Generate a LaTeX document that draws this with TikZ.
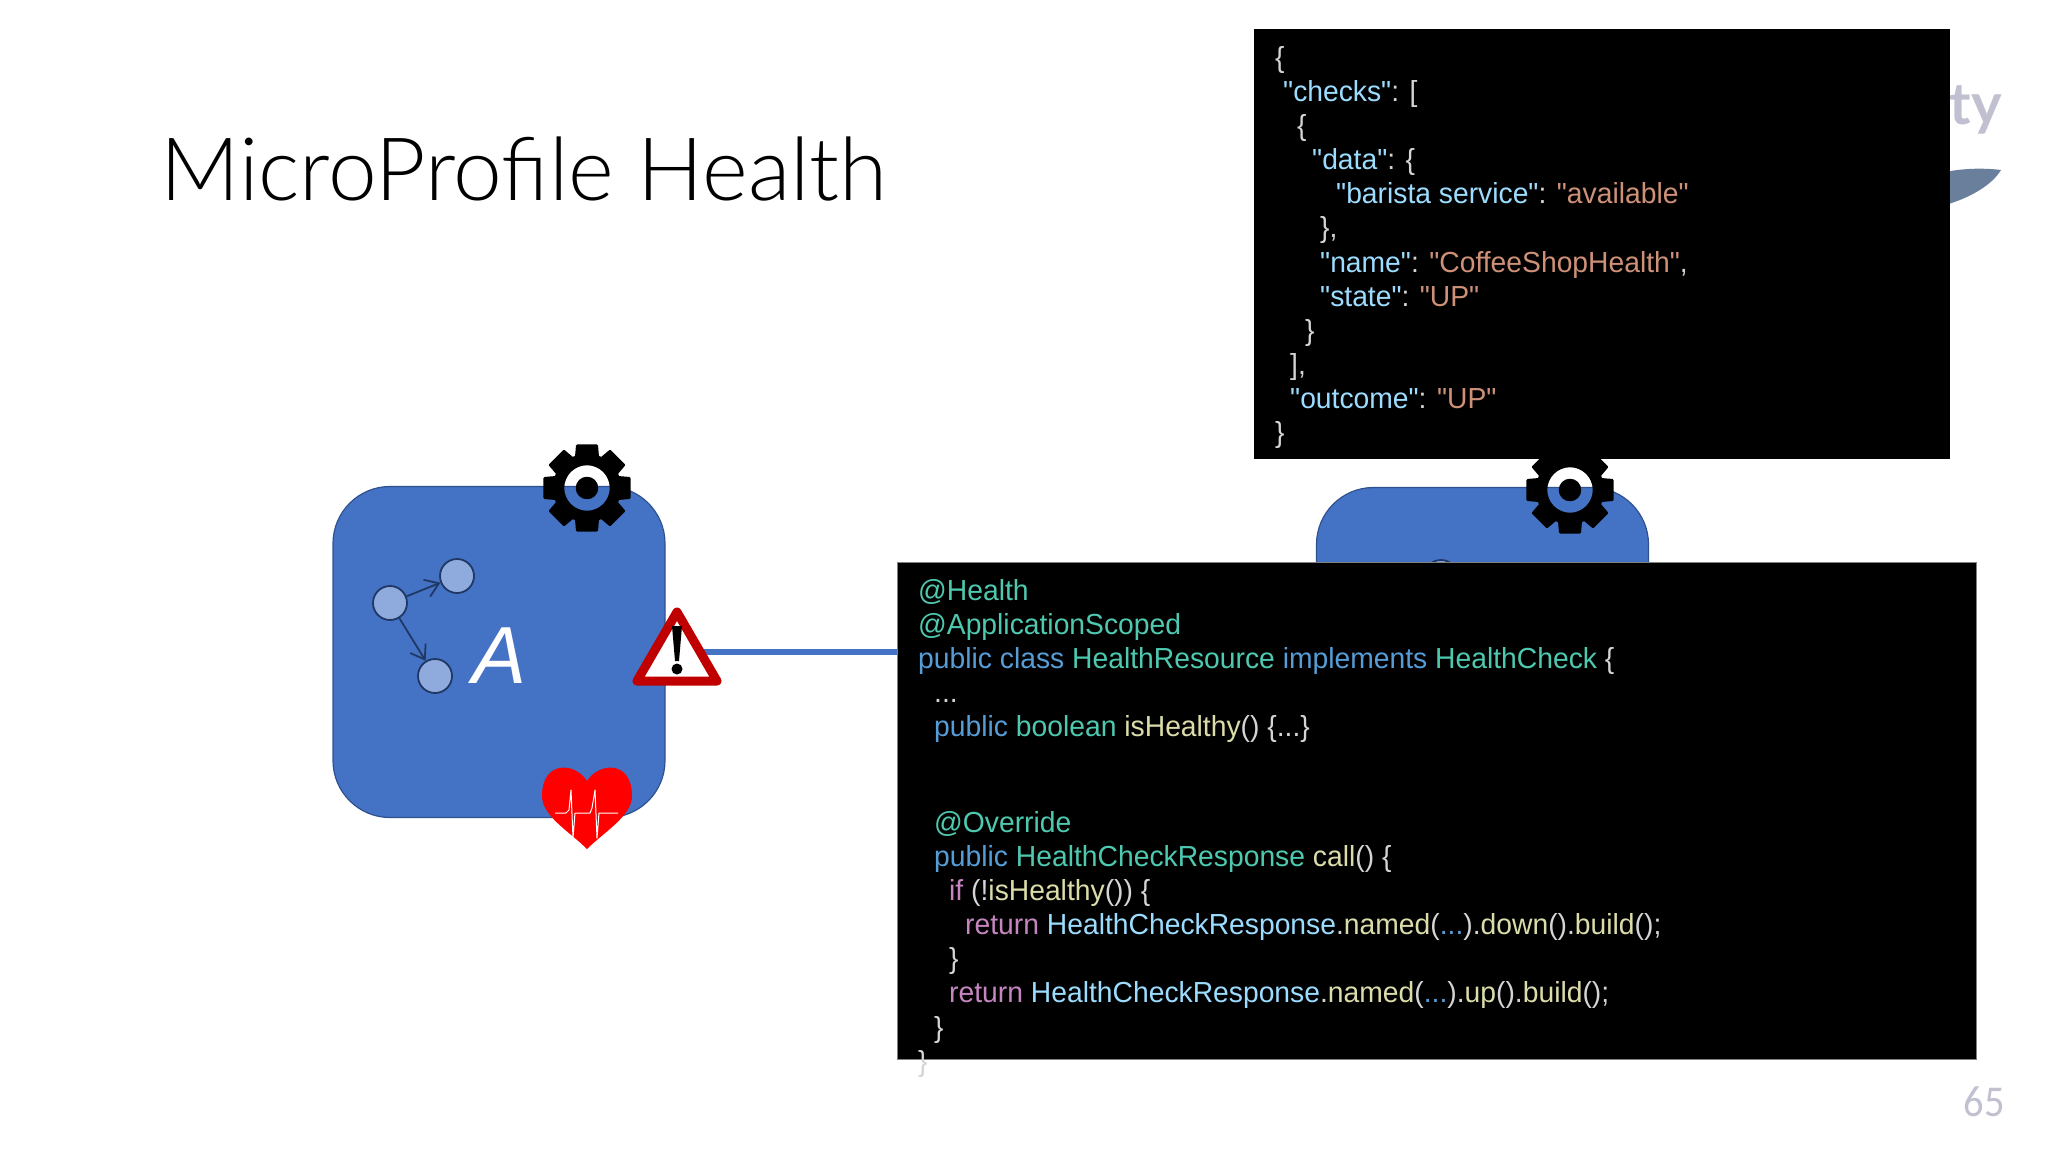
\documentclass[tikz,border=0pt]{standalone}
\usepackage{fontspec}
\setmainfont{Liberation Sans}
\newfontfamily\codef[FakeStretch=0.975]{Liberation Sans}
\newfontfamily\titlef{Lato Light}
\newfontfamily\pagef[FakeStretch=0.92]{Carlito}
\newfontfamily\logof{Lato}
\usetikzlibrary{arrows.meta}
\definecolor{boxblue}{HTML}{4472C4}
\definecolor{boxedge}{HTML}{2F528F}
\definecolor{dotblue}{HTML}{8FAADC}
\definecolor{dotedge}{HTML}{1F3864}
\definecolor{kw}{HTML}{569CD6}
\definecolor{ty}{HTML}{4EC9B0}
\definecolor{fn}{HTML}{DCDCAA}
\definecolor{ctl}{HTML}{C586C0}
\definecolor{vr}{HTML}{9CDCFE}
\definecolor{st}{HTML}{CE9178}
\definecolor{pl}{HTML}{D4D4D4}
\definecolor{slidegrey}{HTML}{C0C0D0}
\definecolor{warnred}{HTML}{C00000}
\definecolor{finblue}{HTML}{6A7F9C}
\newcommand\cK[1]{\textcolor{kw}{#1}}
\newcommand\cT[1]{\textcolor{ty}{#1}}
\newcommand\cF[1]{\textcolor{fn}{#1}}
\newcommand\cC[1]{\textcolor{ctl}{#1}}
\newcommand\cV[1]{\textcolor{vr}{#1}}
\newcommand\cS[1]{\textcolor{st}{#1}}
\newcommand\gearat[2]{%
  \begin{scope}[shift={(#1,#2)}]
    \fill[black,even odd rule,draw=black,line width=2.5pt,line join=round]
      (-13:43.5) -- (13:43.5)
      \foreach \a in {0,45,...,315}{ -- ({\a-13}:43.5) -- ({\a+13}:43.5) -- ({\a+19}:33) -- ({\a+26}:33) } -- cycle
      (0,0) circle[radius=24]
      (0,0) circle[radius=10];
  \end{scope}}
\tikzset{
  x=1pt,y=-1pt,
  svcbox/.style={draw=boxedge,line width=1.2pt,fill=boxblue,rounded corners=57pt,minimum width=332pt,minimum height=331pt,inner sep=0pt},
  blackbox/.style={fill=black,draw=#1,line width=0.8pt,inner sep=0pt},
  codeline/.style={anchor=base west,inner sep=0pt,text=pl,font=\codef\fontsize{29}{34}\selectfont},
  dotnode/.style={circle,draw=dotedge,line width=1.8pt,fill=dotblue,minimum size=34pt,inner sep=0pt},
  dotarrow/.style={draw=dotedge,line width=1.8pt,-{Straight Barb[length=13pt,width=18pt]}},
  link/.style={draw=boxblue,line width=6pt}
}
\begin{document}
\begin{tikzpicture}
\useasboundingbox (0,0) rectangle (2048,1152);
\fill[white] (0,0) rectangle (2048,1152);
\node[anchor=base west,inner sep=0pt,font=\titlef\fontsize{87.5}{100}\selectfont,text=black] (title) at (160,200) {MicroProf{}ile Health};
\node[anchor=base east,inner sep=0pt,font=\logof\bfseries\fontsize{58}{60}\selectfont,text=slidegrey] (logo) at (2002,124) {rty};
\fill[finblue] (1945,172) .. controls (1965,168) and (1985,168) .. (2001,170) .. controls (1992,185) and (1970,198) .. (1945,205) -- cycle;
\node[anchor=center,inner sep=0pt,font=\pagef\fontsize{44}{48}\selectfont,text=slidegrey] (pagenum) at (1984,1102) {65};
% service A
\node[svcbox] (boxA) at (499,652) {};
\gearat{587}{488}
\node[dotnode] (d1) at (390,603) {};
\node[dotnode] (d2) at (457,576) {};
\node[dotnode] (d3) at (435,676) {};
\draw[dotarrow] (d1) -- (d2);
\draw[dotarrow] (d1) -- (d3);
\node[anchor=base,inner sep=0pt,font=\itshape\fontsize{81}{90}\selectfont,text=white] (nameA) at (500,683) {A};
% heart
\fill[red] (587,781) .. controls (575,762) and (542,760) .. (542,796) .. controls (542,816) and (570,832) .. (587,849)
  .. controls (604,832) and (632,816) .. (632,796) .. controls (632,760) and (599,762) .. (587,781) -- cycle;
\draw[white,line width=1pt,line join=round] (555,813) -- (566,813) -- (569,810) -- (571,790) -- (573,838) -- (575,813) -- (590,813) -- (592,808) -- (595,790) -- (597,838) -- (599,813) -- (618,813);
% service B
\node[svcbox] (boxB) at (1482.5,653) {};
\gearat{1570}{490}
\node[dotnode] (dB) at (1441,577) {};
% link and warning
\coordinate (warnc) at (677,652);
\node[blackbox=gray,minimum width=1079pt,minimum height=497pt] (code) at (1436.5,810.5) {};
\draw[link] (warnc) -- (code.west |- warnc);
\draw[warnred,fill=white,line width=9pt,line join=round] (677,612) -- (717,681) -- (637,681) -- cycle;
\fill[black] (672,626) -- (682,626) -- (679,661) -- (675,661) -- cycle;
\fill[black] (677,669) circle[radius=5.5];
\node[blackbox=black,minimum width=695pt,minimum height=429pt] (json) at (1601.5,243.5) {};
% json text
\node[codeline] (j1) at (1275,67) {\{};
\node[codeline] (j2) at (1283,101) {\cV{"checks"}: [};
\node[codeline] (j3) at (1297,135) {\{};
\node[codeline] (j4) at (1312,169) {\cV{"data"}: \{};
\node[codeline] (j5) at (1336,203) {\cV{"barista service"}: \cS{"available"}};
\node[codeline] (j6) at (1320,237) {\},};
\node[codeline] (j7) at (1320,272) {\cV{"name"}: \cS{"CoffeeShopHealth"},};
\node[codeline] (j8) at (1320,306) {\cV{"state"}: \cS{"UP"}};
\node[codeline] (j9) at (1305,340) {\}};
\node[codeline] (j10) at (1290,374) {],};
\node[codeline] (j11) at (1290,408) {\cV{"outcome"}: \cS{"UP"}};
\node[codeline] (j12) at (1275,442) {\}};
% code text
\node[codeline] (c1) at (918,600) {\cT{@Health}};
\node[codeline] (c2) at (918,634) {\cT{@ApplicationScoped}};
\node[codeline] (c3) at (918,668) {\cK{public class} \cT{HealthResource} \cK{implements} \cT{HealthCheck} \{};
\node[codeline] (c4) at (934,702) {...};
\node[codeline] (c5) at (934,736) {\cK{public} \cT{boolean} \cF{isHealthy}() \{...\}};
\node[codeline] (c6) at (934,832) {\cT{@Override}};
\node[codeline] (c7) at (934,866) {\cK{public} \cT{HealthCheckResponse} \cF{call}() \{};
\node[codeline] (c8) at (949,900) {\cC{if} (!\cF{isHealthy}()) \{};
\node[codeline] (c9) at (965,934) {\cC{return} \cV{HealthCheckResponse}.\cF{named}(\cK{...}).\cF{down}().\cF{build}();};
\node[codeline] (c10) at (949,968) {\}};
\node[codeline] (c11) at (949,1002) {\cC{return} \cV{HealthCheckResponse}.\cF{named}(\cK{...}).\cF{up}().\cF{build}();};
\node[codeline] (c12) at (934,1037) {\}};
\node[codeline] (c13) at (918,1071) {\}};
\end{tikzpicture}
\end{document}
